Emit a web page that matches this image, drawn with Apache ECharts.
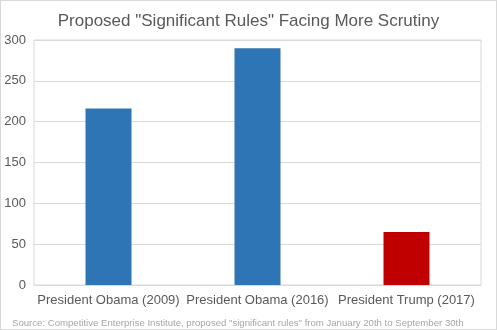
<!DOCTYPE html>
<html><head><meta charset="utf-8">
<script src="https://cdn.jsdelivr.net/npm/echarts@6/dist/echarts.min.js"></script>
<style>html,body{margin:0;padding:0;background:#fff}#c{width:497px;height:330px;box-sizing:border-box;border:1px solid #d9d9d9}</style>
</head><body><div id="c"></div>
<script>
const categories = ["President Obama (2009)", "President Obama (2016)", "President Trump (2017)"];
const values = [216, 290, 65];
const barColors = ["#2E75B6", "#2E75B6", "#C00000"];
const yTicks = [0, 50, 100, 150, 200, 250, 300];
const titleText = 'Proposed "Significant Rules" Facing More Scrutiny';
const sourceText = 'Source: Competitive Enterprise Institute, proposed "significant rules" from January 20th to September 30th';

const chart = echarts.init(document.getElementById('c'), null, {renderer: 'canvas'});
chart.setOption({
  animation: false,
  textStyle: {fontFamily: 'Liberation Sans, Arial, sans-serif'},
  title: [{
    text: titleText, left: 'center', top: 7,
    textStyle: {fontSize: 17, fontWeight: 'normal', color: '#595959', fontFamily: 'Liberation Sans'}
  }, {
    text: sourceText, left: 6, top: 312,
    textStyle: {fontSize: 9.6, fontWeight: 'normal', color: '#a6a6a6', fontFamily: 'Liberation Sans'}
  }],
  grid: {left: 33, right: 15, top: 39, bottom: 44, show: true, borderColor: '#d9d9d9', borderWidth: 1},
  xAxis: {
    type: 'category', data: categories,
    axisLine: {lineStyle: {color: '#d9d9d9'}},
    axisTick: {show: false},
    axisLabel: {color: '#595959', fontSize: 13, margin: 9, interval: 0, hideOverlap: false}
  },
  yAxis: {
    type: 'value', min: yTicks[0], max: yTicks[yTicks.length-1], interval: 50,
    axisLine: {show: false}, axisTick: {show: false},
    axisLabel: {color: '#595959', fontSize: 13, margin: 8},
    splitLine: {lineStyle: {color: '#d9d9d9'}}
  },
  series: [{
    type: 'bar', barWidth: 46,
    data: values.map((v, i) => ({value: v, itemStyle: {color: barColors[i]}}))
  }]
});
</script></body></html>
